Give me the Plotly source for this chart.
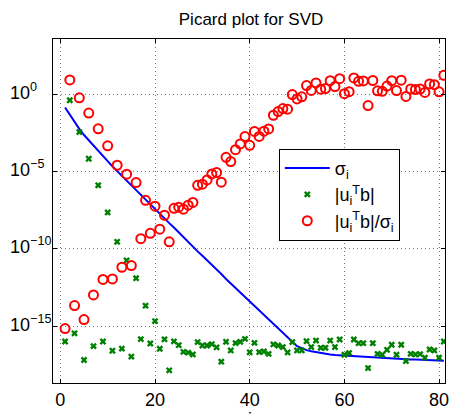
import numpy as np
import plotly.graph_objects as go

# index of each singular value / coefficient
idx = list(range(1, 82))

# log10 of the singular values sigma_i
sigma_exp = [
    -0.84, -1.32, -1.80, -2.22, -2.62, -2.96, -3.32, -3.66, -4.02, -4.32,
    -4.65, -4.96, -5.27, -5.59, -5.90, -6.20, -6.51, -6.83, -7.14, -7.45,
    -7.75, -8.04, -8.33, -8.62, -8.94, -9.24, -9.55, -9.85, -10.16, -10.45,
    -10.73, -11.03, -11.33, -11.63, -11.95, -12.24, -12.53, -12.82, -13.11, -13.41,
    -13.70, -13.98, -14.28, -14.57, -14.85, -15.16, -15.45, -15.76, -16.04, -16.30,
    -16.43, -16.56, -16.63, -16.69, -16.76, -16.80, -16.84, -16.88, -16.90, -16.92,
    -16.94, -16.95, -16.97, -16.99, -17.01, -17.02, -17.04, -17.07, -17.09, -17.11,
    -17.12, -17.14, -17.15, -17.16, -17.17, -17.18, -17.19, -17.21, -17.22, -17.23,
    -17.25,
]

# log10 of the Fourier coefficients |u_i^T b|
utb_exp = [
    -16.00, -0.37, -15.47, -2.43, -17.20, -4.16, -16.30, -5.88, -16.00, -7.64,
    -16.60, -9.54, -16.46, -10.75, -16.98, -11.90, -15.85, -13.68, -16.13, -14.68,
    -16.47, -15.86, -17.87, -15.99, -16.24, -16.67, -16.72, -16.84, -16.04, -16.26,
    -16.26, -16.17, -16.38, -17.31, -16.02, -16.58, -16.10, -16.02, -15.83, -16.70,
    -16.09, -16.69, -16.65, -16.80, -16.19, -16.26, -16.36, -16.71, -16.04, -16.58,
    -16.58, -15.98, -16.36, -15.94, -16.41, -16.41, -15.94, -16.36, -15.87, -16.86,
    -16.75, -15.87, -16.11, -16.11, -17.72, -16.11, -16.80, -16.86, -16.54, -16.21,
    -16.86, -16.21, -17.27, -16.80, -16.84, -16.82, -17.05, -16.52, -16.58, -17.05,
    -16.00,
]

# decade tick labels on the y axis
ytick_exp = [0, -5, -10, -15]
ytick_text = ["10<sup>0</sup>", "10<sup>\u22125</sup>", "10<sup>\u221210</sup>", "10<sup>\u221215</sup>"]
xtick_vals = [0, 20, 40, 60, 80]

sigma = 10.0 ** np.array(sigma_exp)
utb = 10.0 ** np.array(utb_exp)
ratio = utb / sigma

FONT = "Liberation Sans, Arial, Helvetica, sans-serif"

fig = go.Figure()
fig.add_trace(go.Scatter(
    x=idx, y=sigma, mode="lines", name="\u03c3<sub>i</sub>",
    line=dict(color="#0000ff", width=2),
))
fig.add_trace(go.Scatter(
    x=idx, y=utb, mode="markers", name="|u<sub>i</sub><sup>T</sup>b|",
    marker=dict(symbol="x", size=6, color="#008000", line=dict(width=0)),
))
fig.add_trace(go.Scatter(
    x=idx, y=ratio, mode="markers", name="|u<sub>i</sub><sup>T</sup>b|/\u03c3<sub>i</sub>",
    marker=dict(symbol="circle-open", size=9, color="#ff0000", line=dict(width=2, color="#ff0000")),
))

axis_common = dict(
    showline=True, linecolor="black", linewidth=1, mirror="ticks",
    ticks="inside", ticklen=4, tickcolor="black",
    showgrid=True, gridcolor="#777777", gridwidth=1, griddash="1px,3px",
    zeroline=False,
)

fig.update_xaxes(
    range=[-1.55, 81.25], tickvals=xtick_vals,
    tickfont=dict(family=FONT, size=18, color="black"),
    **axis_common,
)
fig.update_yaxes(
    type="log", range=[-18.69, 3.60],
    tickvals=[10.0 ** e for e in ytick_exp], showticklabels=False,
    **axis_common,
)

# decade labels, with the base "10" left-aligned as in the printed figure
for e, t in zip(ytick_exp, ytick_text):
    fig.add_annotation(
        x=0, xref="paper", xanchor="left", xshift=-45,
        y=e, yref="y", yanchor="middle", yshift=3,
        text=t, showarrow=False,
        font=dict(family=FONT, size=18, color="black"),
    )

# x-axis label (falls mostly below the page edge)
fig.add_annotation(
    x=40, xref="x", y=0, yref="paper", yanchor="top", yshift=-24,
    text="i", showarrow=False, font=dict(family=FONT, size=18, color="black"),
)

fig.update_layout(
    width=454, height=415,
    margin=dict(l=53, r=5, t=39, b=31),
    paper_bgcolor="white", plot_bgcolor="white",
    title=dict(
        text="Picard plot for SVD", x=0.553, xanchor="center",
        y=1 - 19 / 415, yanchor="middle", yref="container",
        font=dict(family=FONT, size=17, color="black"),
    ),
    legend=dict(
        x=0.576, y=0.681, xanchor="left", yanchor="top",
        bgcolor="white", bordercolor="black", borderwidth=1,
        font=dict(family=FONT, size=18, color="black"),
        tracegroupgap=0, itemwidth=45,
    ),
    showlegend=True,
)

fig.write_html("out.html")
